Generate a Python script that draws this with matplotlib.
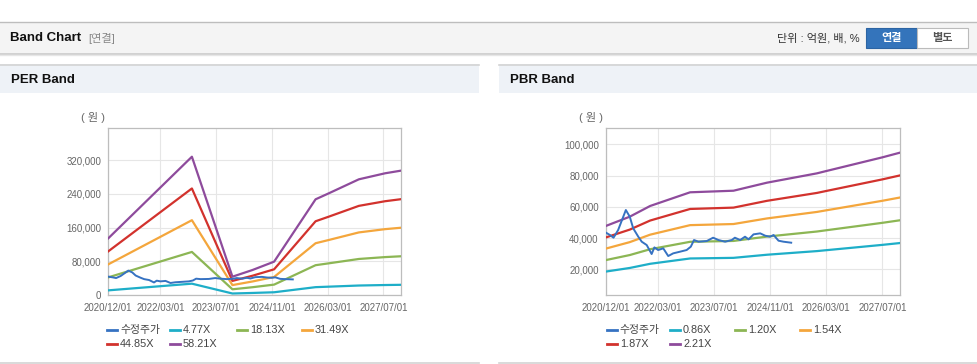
import numpy as np
import pandas as pd
import matplotlib
matplotlib.use('Agg')
import matplotlib.pyplot as plt
import matplotlib.dates as mdates
from matplotlib.patches import Rectangle
from matplotlib.lines import Line2D

plt.rcParams['font.family'] = ['Liberation Sans', 'Noto Sans CJK KR', 'DejaVu Sans']

# 수정주가 (adjusted price)
price_dates = ['2020-12-04', '2021-01-07', '2021-02-07', '2021-03-19', '2021-05-25',
               '2021-06-28', '2021-07-28', '2021-09-10', '2021-10-10', '2021-11-22',
               '2022-01-04', '2022-01-28', '2022-03-01', '2022-04-15', '2022-05-28',
               '2022-07-10', '2022-09-07', '2022-11-04', '2022-12-10', '2023-01-07',
               '2023-02-15', '2023-04-28', '2023-06-22', '2023-08-07', '2023-10-04',
               '2023-12-01', '2023-12-28', '2024-02-12', '2024-03-25', '2024-04-25',
               '2024-06-07', '2024-08-04', '2024-09-16', '2024-10-28', '2024-11-28',
               '2025-01-10', '2025-02-22', '2025-04-30']
price = [43450, 41970, 40260, 45170, 57970, 53700, 46240, 40900, 37700, 35570,
         29810, 34070, 32370, 33440, 28530, 30240, 31300, 32370, 34500, 38770,
         37700, 38130, 40260, 38770, 37700, 38770, 40260, 38770, 40900, 39200,
         42400, 43040, 41540, 40900, 41970, 38340, 37700, 37060]

# EPS used for PER band
eps_dates = ['2020-12-01', '2022-12-01', '2023-11-20', '2024-05-13', '2024-11-18',
             '2025-11-15', '2026-03-10', '2026-11-28', '2027-07-15', '2027-12-01']
eps = [2314, 5643, 747, 1020, 1361, 3905, 4149, 4721, 4967, 5075]
per_mult = [4.77, 18.13, 31.49, 44.85, 58.21]

# BPS used for PBR band
bps_dates = ['2020-12-01', '2021-06-28', '2021-12-22', '2022-12-04', '2023-12-16',
             '2024-10-01', '2025-12-10', '2026-03-01', '2027-07-01', '2027-12-01']
bps = [21600, 24300, 27400, 31360, 31820, 34140, 36850, 37520, 41480, 42840]
pbr_mult = [0.86, 1.20, 1.54, 1.87, 2.21]

tick_dates = ['2020-12-01', '2022-03-01', '2023-07-01', '2024-11-01', '2026-03-01', '2027-07-01']
band_colors = ['#1eaec8', '#8cb654', '#f4a63c', '#d2322d', '#8e4b9c']
price_color = '#3672c2'

W, H = 978, 364
fig = plt.figure(figsize=(W / 100, H / 100), dpi=100)


def fx(x):
    return x / W


def fy(y):
    return 1 - y / H


def rect(x0, y0, x1, y1, fc, ec='none', lw=0):
    fig.add_artist(Rectangle((fx(x0), fy(y1)), fx(x1) - fx(x0), fy(y0) - fy(y1),
                             transform=fig.transFigure, fc=fc, ec=ec, lw=lw))


def hline(x0, x1, y, color, lw=1):
    fig.add_artist(Line2D([fx(x0), fx(x1)], [fy(y), fy(y)], transform=fig.transFigure,
                          color=color, lw=lw))


bold_family = ['Liberation Sans Narrow', 'Liberation Sans', 'Noto Sans CJK KR']

# top header bar
rect(0, 22, W, 53, '#f4f4f4')
hline(0, W, 22, '#bdbdbd', 1)
hline(0, W, 53.5, '#c8c8c8', 1.2)
hline(0, W, 55, '#e6e6e6', 1)
fig.text(fx(10), fy(38), 'Band Chart', fontsize=9.5, fontweight='bold', color='#111',
         va='center', family=bold_family)
fig.text(fx(88), fy(38), '[연결]', fontsize=8, color='#888', va='center')
fig.text(fx(860), fy(38), '단위 : 억원, 배, %', fontsize=8, color='#333', va='center', ha='right')
rect(866, 28, 917, 48, '#3474bb', ec='#2c64a3', lw=0.8)
rect(917, 28, 968, 48, 'white', ec='#bbbbbb', lw=0.8)
fig.text(fx(891.5), fy(38), '연결', fontsize=8, color='white', fontweight='bold', ha='center', va='center')
fig.text(fx(942.5), fy(38), '별도', fontsize=8, color='#555', fontweight='bold', ha='center', va='center')

# panel headers and bottom lines
for x0, x1, title in [(0, 479, 'PER Band'), (499, W, 'PBR Band')]:
    rect(x0, 64, x1, 93, '#eef2f7')
    hline(x0, x1, 64.5, '#d3d3d3', 1.2)
    hline(x0, x1, 362.5, '#d3d3d3', 1.2)
    fig.text(fx(x0 + 11), fy(80), title, fontsize=9.5, fontweight='bold', color='#111',
             va='center', family=bold_family)


def band_axes(left, right, base_dates, base, mults, ylim, yticks):
    ax = fig.add_axes([fx(left), fy(295), fx(right) - fx(left), fy(128.3) - fy(295)])
    bd = pd.to_datetime(base_dates)
    pd_ = pd.to_datetime(price_dates)
    for m, c in zip(mults, band_colors):
        ax.plot(bd, np.array(base) * m, color=c, lw=1.6, solid_joinstyle='round', zorder=3)
    ax.plot(pd_, price, color=price_color, lw=1.4, zorder=4)
    ax.set_xlim(pd.Timestamp('2020-12-01'), pd.Timestamp('2027-12-01'))
    ax.set_ylim(*ylim)
    ax.set_xticks(pd.to_datetime(tick_dates))
    ax.xaxis.set_major_formatter(mdates.DateFormatter('%Y/%m/%d'))
    ax.set_yticks(yticks)
    ax.set_yticklabels([f'{v:,}' for v in yticks])
    ax.grid(True, color='#e6e6e6', lw=0.8, zorder=0)
    ax.set_axisbelow(True)
    for s in ax.spines.values():
        s.set_color('#bdbdbd')
        s.set_linewidth(0.9)
    ax.tick_params(length=0, labelsize=7, colors='#666', pad=5)
    ax.tick_params(axis='x', pad=6)
    fig.text(fx(left - 15), fy(118), '( 원 )', fontsize=8, color='#666', ha='center', va='center')
    return ax


band_axes(108.3, 401, eps_dates, eps, per_mult, (0, 396000),
          [0, 80000, 160000, 240000, 320000])
band_axes(605.7, 900, bps_dates, bps, pbr_mult, (3600, 110250),
          [20000, 40000, 60000, 80000, 100000])


def legend(xs, labels):
    colors = [price_color] + band_colors
    for i, (lab, c) in enumerate(zip(labels, colors)):
        x = xs[i % 4]
        y = 330 if i < 4 else 344
        fig.add_artist(Line2D([fx(x), fx(x + 10)], [fy(y), fy(y)], transform=fig.transFigure,
                              color=c, lw=2))
        fig.text(fx(x + 13), fy(y), lab, fontsize=7.8, color='#444', va='center')


legend([107, 170, 237, 302], ['수정주가'] + [f'{m:.2f}X' for m in per_mult])
legend([606.7, 670, 735, 800], ['수정주가'] + [f'{m:.2f}X' for m in pbr_mult])

fig.savefig('out.png', dpi=100)
